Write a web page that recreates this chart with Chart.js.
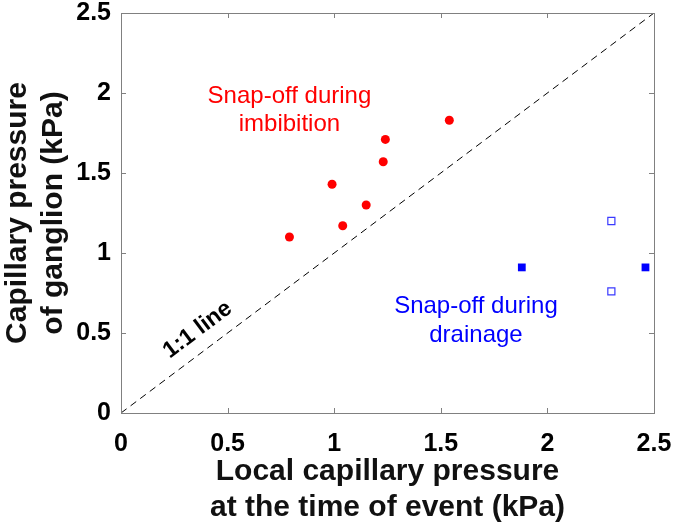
<!DOCTYPE html>
<html>
<head>
<meta charset="utf-8">
<script src="https://cdn.jsdelivr.net/npm/chart.js"></script>
<style>
  body { margin: 0; background: #fff; }
  #wrap { width: 675px; height: 530px; }
</style>
</head>
<body>
<div id="wrap"><canvas id="pcChart"></canvas></div>
<script>
// values (kPa)
const imbibitionX = [0.79, 0.99, 1.04, 1.15, 1.23, 1.24, 1.54];
const imbibitionY = [1.10, 1.43, 1.17, 1.30, 1.57, 1.71, 1.83];
const drainageFilledX = [1.88, 2.46];
const drainageFilledY = [0.91, 0.91];
const drainageOpenX = [2.30, 2.30];
const drainageOpenY = [1.20, 0.76];
const unityLineX = [0, 2.5];
const unityLineY = [0, 2.5];
const tickValues = [0, 0.5, 1, 1.5, 2, 2.5];
const tickLabels = ['0', '0.5', '1', '1.5', '2', '2.5'];

const toPoints = (xs, ys) => xs.map((x, i) => ({ x: x, y: ys[i] }));

// text labels inside the plot, anchored in data units
const notes = [
  { lines: ['Snap-off during', 'imbibition'], x: 0.79, y: 1.98, dy: 0.175, color: '#ff0000', font: '24px "Liberation Sans", Arial, sans-serif' },
  { lines: ['Snap-off during', 'drainage'], x: 1.665, y: 0.665, dy: 0.18, color: '#0000ff', font: '24px "Liberation Sans", Arial, sans-serif' }
];

const boxPlugin = {
  id: 'boxPlugin',
  afterDraw(chart) {
    const { ctx, chartArea: a, scales } = chart;
    ctx.save();
    ctx.strokeStyle = '#808080';
    ctx.lineWidth = 1;
    ctx.strokeRect(a.left + 0.5, a.top + 0.5, a.right - a.left, a.bottom - a.top);
    // inward ticks on all four sides, MATLAB style
    const len = 5;
    ctx.beginPath();
    scales.x.ticks.forEach(t => {
      const px = Math.round(scales.x.getPixelForValue(t.value)) + 0.5;
      ctx.moveTo(px, a.bottom); ctx.lineTo(px, a.bottom - len);
      ctx.moveTo(px, a.top); ctx.lineTo(px, a.top + len);
    });
    scales.y.ticks.forEach(t => {
      const py = Math.round(scales.y.getPixelForValue(t.value)) + 0.5;
      ctx.moveTo(a.left, py); ctx.lineTo(a.left + len, py);
      ctx.moveTo(a.right, py); ctx.lineTo(a.right - len, py);
    });
    ctx.stroke();

    // annotations
    ctx.textAlign = 'center';
    ctx.textBaseline = 'middle';
    notes.forEach(n => {
      ctx.fillStyle = n.color;
      ctx.font = n.font;
      n.lines.forEach((line, i) => {
        ctx.fillText(line, scales.x.getPixelForValue(n.x), scales.y.getPixelForValue(n.y - i * n.dy));
      });
    });

    // "1:1 line" label along the diagonal
    const x0 = scales.x.getPixelForValue(0), y0 = scales.y.getPixelForValue(0);
    const x1 = scales.x.getPixelForValue(2.5), y1 = scales.y.getPixelForValue(2.5);
    const ang = Math.atan2(y1 - y0, x1 - x0);
    ctx.translate(scales.x.getPixelForValue(0.36), scales.y.getPixelForValue(0.52));
    ctx.rotate(ang);
    ctx.fillStyle = '#000';
    ctx.font = 'bold 23px "Liberation Sans", Arial, sans-serif';
    ctx.fillText('1:1 line', 0, 0);
    ctx.restore();
  }
};

const tickFont = { family: '"Liberation Sans", Arial, sans-serif', size: 25, weight: 'bold' };
const titleFont = { family: '"Liberation Sans", Arial, sans-serif', size: 30, weight: 'bold', lineHeight: 1.2 };
const fmtTick = v => tickLabels[tickValues.indexOf(v)];

new Chart(document.getElementById('pcChart'), {
  type: 'scatter',
  data: {
    datasets: [
      {
        label: '1:1 line',
        type: 'line',
        data: toPoints(unityLineX, unityLineY),
        borderColor: '#000',
        borderWidth: 1,
        borderDash: [7, 5],
        pointRadius: 0,
        fill: false
      },
      {
        label: 'Snap-off during imbibition',
        data: toPoints(imbibitionX, imbibitionY),
        backgroundColor: '#ff0000',
        borderColor: '#ff0000',
        pointStyle: 'circle',
        pointRadius: 4.5,
        borderWidth: 0
      },
      {
        label: 'Snap-off during drainage',
        data: toPoints(drainageFilledX, drainageFilledY),
        backgroundColor: '#0000ff',
        borderColor: '#0000ff',
        pointStyle: 'rect',
        pointRadius: 5.5,
        borderWidth: 0
      },
      {
        label: 'Snap-off during drainage (open)',
        data: toPoints(drainageOpenX, drainageOpenY),
        backgroundColor: '#ffffff',
        borderColor: '#3a3aff',
        pointStyle: 'rect',
        pointRadius: 5,
        borderWidth: 1.2
      }
    ]
  },
  options: {
    responsive: true,
    maintainAspectRatio: false,
    animation: false,
    layout: { padding: { top: 13, right: 21, left: 0, bottom: 0 } },
    plugins: {
      legend: { display: false },
      tooltip: { enabled: false }
    },
    scales: {
      x: {
        type: 'linear',
        min: 0,
        max: 2.5,
        afterBuildTicks: s => { s.ticks = tickValues.map(v => ({ value: v })); },
        afterFit: s => { s.height = 117; s.paddingLeft = 0; s.paddingRight = 0; },
        grid: { display: false },
        border: { display: false },
        ticks: { color: '#000', font: tickFont, padding: 8, maxRotation: 0, callback: fmtTick },
        title: {
          display: true,
          text: ['Local capillary pressure', 'at the time of event (kPa)'],
          color: '#111',
          font: titleFont,
          padding: { top: 0, bottom: 4 }
        }
      },
      y: {
        type: 'linear',
        min: 0,
        max: 2.5,
        afterBuildTicks: s => { s.ticks = tickValues.map(v => ({ value: v })); },
        afterFit: s => { s.width = 121; s.paddingTop = 0; s.paddingBottom = 0; },
        grid: { display: false },
        border: { display: false },
        ticks: { color: '#000', font: tickFont, padding: 2, callback: fmtTick },
        title: {
          display: true,
          text: ['Capillary pressure', 'of ganglion (kPa)'],
          color: '#111',
          font: titleFont,
          padding: { top: 0, bottom: 0 }
        }
      }
    }
  },
  plugins: [boxPlugin]
});
</script>
</body>
</html>
